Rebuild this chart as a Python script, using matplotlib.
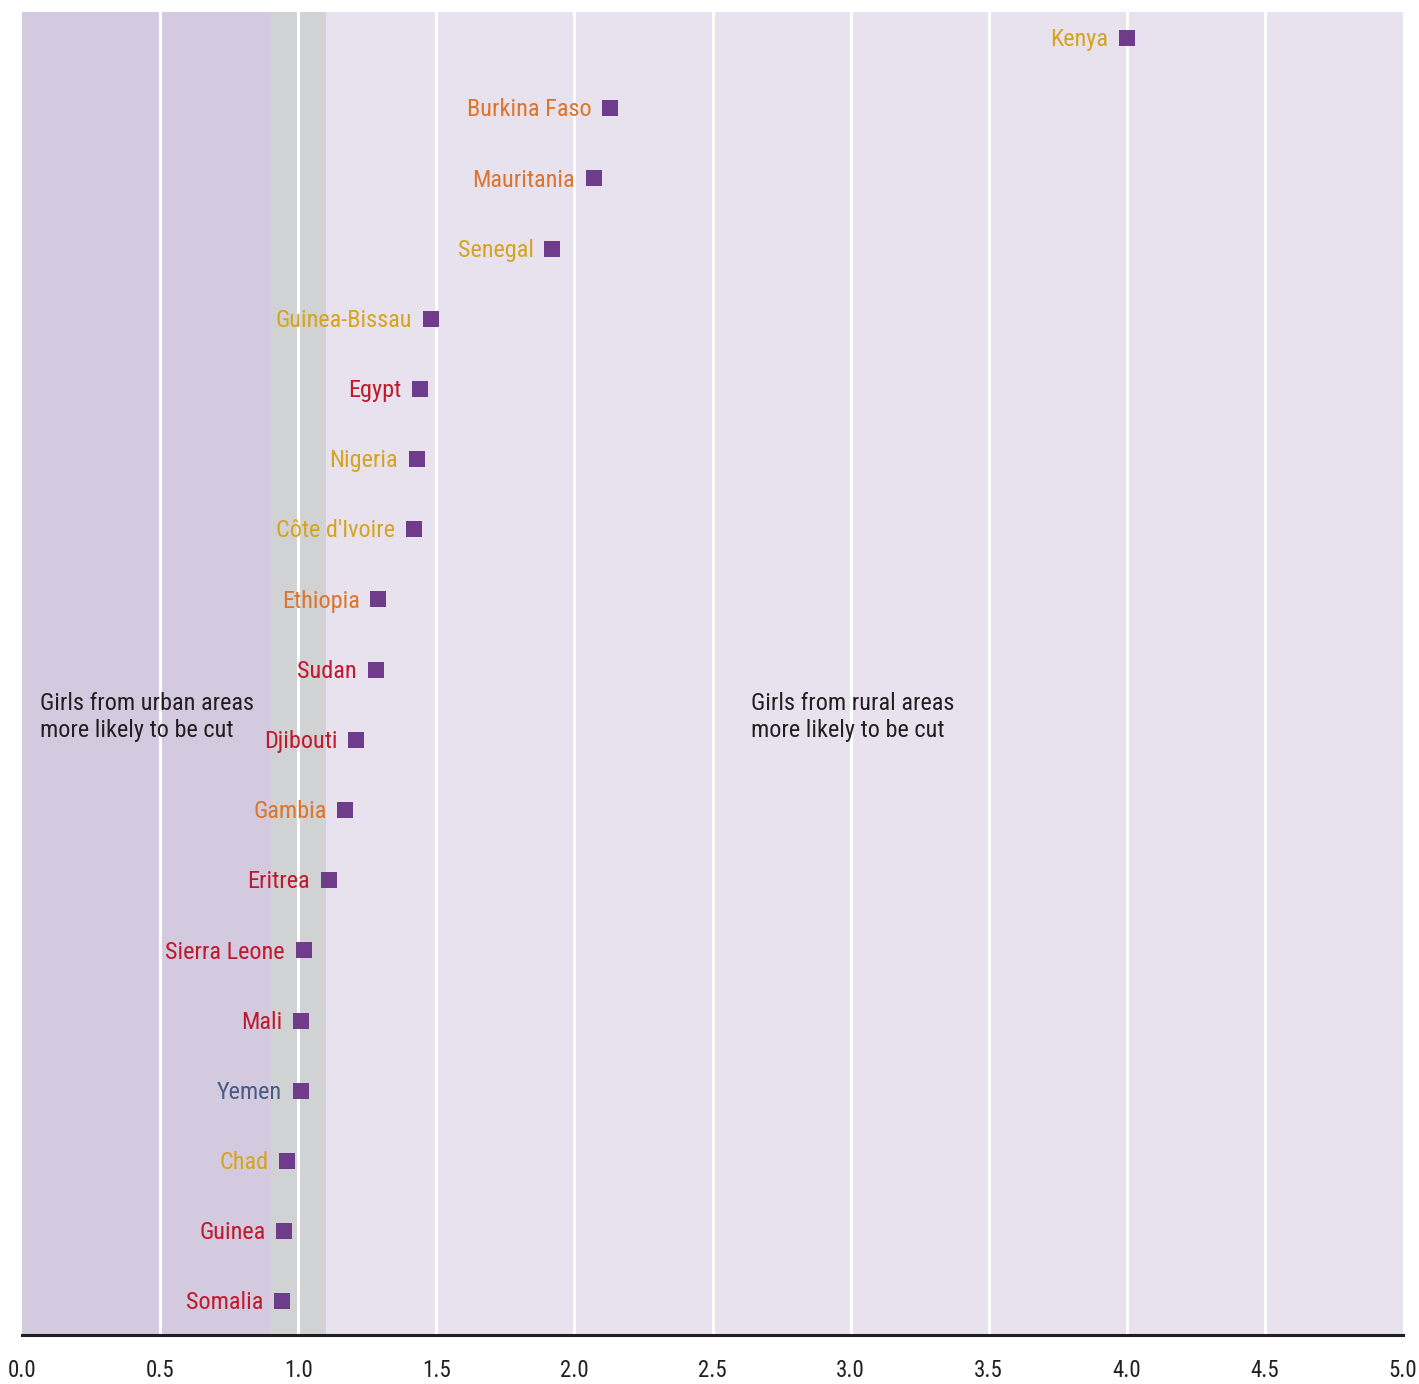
import matplotlib
matplotlib.use("Agg")
import matplotlib.pyplot as plt
from matplotlib import font_manager

names = {f.name for f in font_manager.fontManager.ttflist}
fam = [f for f in ["Roboto Condensed", "Liberation Sans Narrow", "Roboto", "DejaVu Sans"] if f in names]
plt.rcParams['font.family'] = fam + ["DejaVu Sans"]

countries = ["Somalia", "Guinea", "Chad", "Yemen", "Mali", "Sierra Leone", "Eritrea",
             "Gambia", "Djibouti", "Sudan", "Ethiopia", "Côte d'Ivoire", "Nigeria",
             "Egypt", "Guinea-Bissau", "Senegal", "Mauritania", "Burkina Faso", "Kenya"]
ratios = [0.94, 0.95, 0.96, 1.01, 1.01, 1.02, 1.11, 1.17, 1.21, 1.28, 1.29, 1.42,
          1.43, 1.44, 1.48, 1.92, 2.07, 2.13, 4.00]
groups = ["red", "red", "gold", "blue", "red", "red", "red", "orange", "red", "red",
          "orange", "gold", "gold", "red", "gold", "gold", "orange", "orange", "gold"]
xticks = [0.0, 0.5, 1.0, 1.5, 2.0, 2.5, 3.0, 3.5, 4.0, 4.5, 5.0]

group_colors = {"red": "#c1182c", "gold": "#d6a41c", "orange": "#dc742a", "blue": "#4a5a85"}

W, H = 1419, 1384
fig = plt.figure(figsize=(W / 100, H / 100), dpi=100)
ax = fig.add_axes([22 / W, 1 - 1335 / H, (1403 - 22) / W, (1335 - 12) / H])

n = len(countries)
ax.set_xlim(0, 5)
ax.set_ylim(-0.48, n - 1 + 0.37)

ax.axvspan(0, 0.9, color="#d4cae0", zorder=0, lw=0)
ax.axvspan(0.9, 1.1, color="#d1d2d4", zorder=0, lw=0)
ax.axvspan(1.1, 5, color="#e8e2ef", zorder=0, lw=0)
for xv in xticks[1:-1]:
    ax.axvline(xv, color="white", lw=2.2, zorder=1)

ys = list(range(n))
ax.scatter(ratios, ys, marker="s", s=128, color="#6f3c8c", zorder=3, lw=0)

for c, v, y, g in zip(countries, ratios, ys, groups):
    ax.annotate(c, (v, y), xytext=(-13.5, -1.2), textcoords="offset points",
                ha="right", va="center", fontsize=17.5, color=group_colors[g], zorder=4)

ax.text(0.065, 8.68, "Girls from urban areas\nmore likely to be cut", fontsize=17.5,
        color="#231f20", va="top", ha="left", linespacing=1.22, zorder=4)
ax.text(2.64, 8.68, "Girls from rural areas\nmore likely to be cut", fontsize=17.5,
        color="#231f20", va="top", ha="left", linespacing=1.22, zorder=4)

for s in ["top", "right", "left"]:
    ax.spines[s].set_visible(False)
ax.spines["bottom"].set_linewidth(2.2)
ax.spines["bottom"].set_color("#231f20")
ax.set_yticks([])
ax.set_xticks(xticks)
ax.set_xticklabels([f"{x:.1f}" for x in xticks], fontsize=16.5, color="#231f20")
ax.tick_params(axis="x", length=0, pad=17)

fig.savefig("out.png", dpi=100, facecolor="white")
